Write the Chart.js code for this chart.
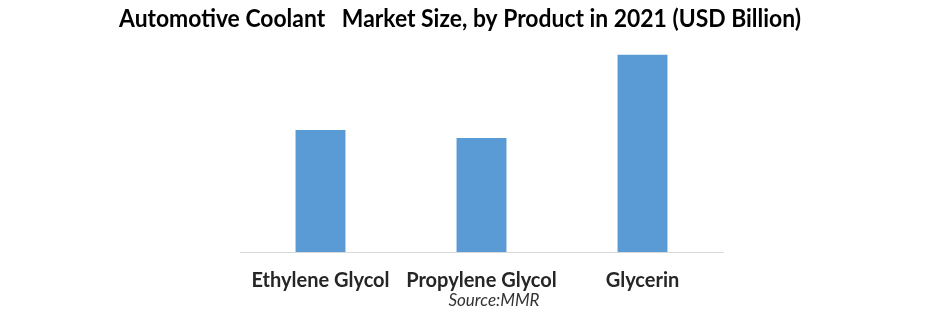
<!DOCTYPE html>
<html>
<head>
<meta charset="utf-8">
<script src="https://cdn.jsdelivr.net/npm/chart.js@4/dist/chart.umd.min.js"></script>
<style>
html,body{margin:0;padding:0;background:#fff;}
#wrap{width:941px;height:314px;position:relative;}
</style>
</head>
<body>
<div id="wrap"><canvas id="c" width="941" height="314"></canvas></div>
<script>
const categories = ["Ethylene Glycol", "Propylene Glycol", "Glycerin"];
const marketSize = [2.88, 2.69, 4.65];
const chartTitle = "Automotive Coolant   Market Size, by Product in 2021 (USD Billion)";
const sourceNote = "Source:MMR";

const textPlugin = {
  id: 'textPlugin',
  afterDraw(chart) {
    const ctx = chart.ctx;
    ctx.save();
    ctx.font = 'bold 25px Lato';
    ctx.fillStyle = '#000';
    ctx.textBaseline = 'alphabetic';
    ctx.textAlign = 'left';
    const w = ctx.measureText(chartTitle).width;
    const sx = 682 / w;
    ctx.translate(119, 27);
    ctx.scale(sx, 1);
    ctx.fillText(chartTitle, 0, 0);
    ctx.restore();
    ctx.save();
    ctx.font = 'italic 17px Lato';
    ctx.fillStyle = '#333333';
    ctx.textAlign = 'center';
    ctx.textBaseline = 'alphabetic';
    ctx.fillText(sourceNote, 494, 306);
    ctx.restore();
  }
};

new Chart(document.getElementById('c'), {
  type: 'bar',
  data: {
    labels: categories,
    datasets: [{
      data: marketSize,
      backgroundColor: '#5B9BD5',
      borderWidth: 0,
      categoryPercentage: 1,
      barPercentage: 0.31
    }]
  },
  plugins: [textPlugin],
  options: {
    responsive: false,
    animation: false,
    layout: { padding: { left: 240, right: 218, top: 40, bottom: 4 } },
    plugins: {
      legend: { display: false },
      tooltip: { enabled: false },
      title: { display: false }
    },
    scales: {
      x: {
        grid: { display: true, color: 'rgba(0,0,0,0)', drawTicks: false },
        border: { display: true, color: '#d9d9d9', width: 1 },
        ticks: {
          color: '#262626',
          font: { family: 'Lato', size: 20, weight: 'bold' },
          padding: 17,
          maxRotation: 0,
          autoSkip: false
        }
      },
      y: {
        display: false,
        min: 0,
        max: 5
      }
    }
  }
});
</script>
</body>
</html>
